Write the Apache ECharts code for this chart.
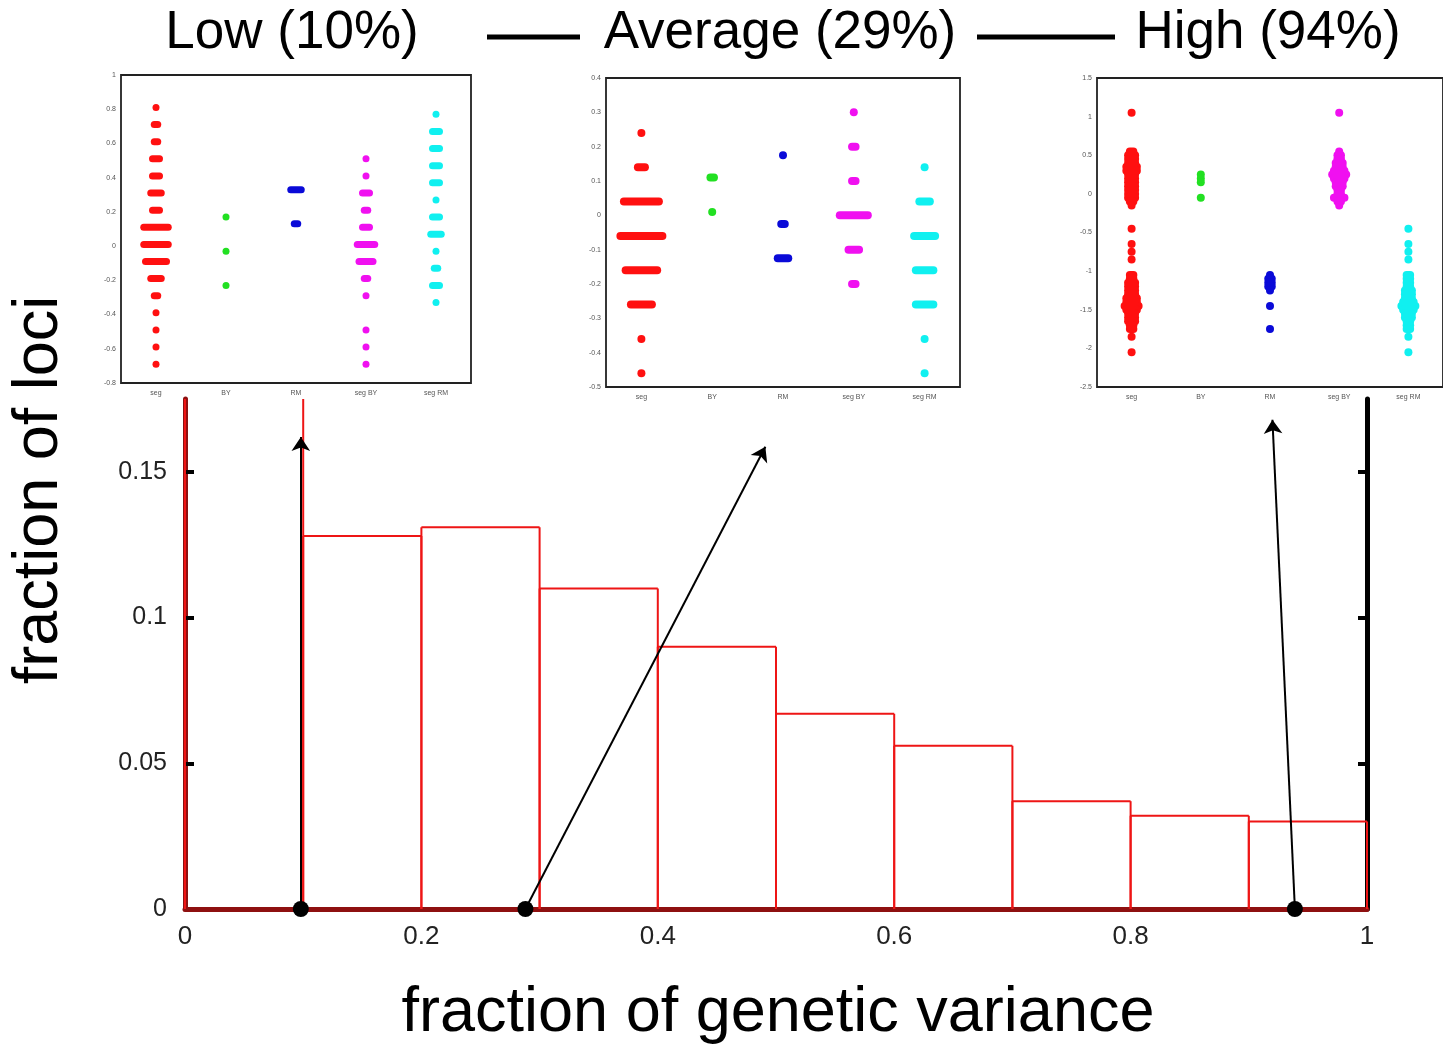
<!DOCTYPE html>
<html>
<head>
<meta charset="utf-8">
<script src="https://cdn.jsdelivr.net/npm/echarts@6/dist/echarts.min.js"></script>
<style>
  html, body { margin: 0; padding: 0; background: #fff; }
  #chart { width: 1443px; height: 1044px; }
</style>
</head>
<body>
<div id="chart"></div>
<script>
// histogram: bin start, bin end, fraction of loci
const binStart = [0, 0.1, 0.2, 0.3, 0.4, 0.5, 0.6, 0.7, 0.8, 0.9];
const binEnd = [0.1, 0.2, 0.3, 0.4, 0.5, 0.6, 0.7, 0.8, 0.9, 1.0];
const binValue = [0.30, 0.128, 0.131, 0.110, 0.090, 0.067, 0.056, 0.037, 0.032, 0.030];

// examples marked on the histogram (fraction of genetic variance)
const exampleNames = ['Low (10%)', 'Average (29%)', 'High (94%)'];
const exampleX = [0.098, 0.288, 0.939];
const arrowTargets = [[0.098, 0.162], [0.491, 0.1586], [0.920, 0.1679]];

// inset categories
const insetCats = ['seg', 'BY', 'RM', 'seg BY', 'seg RM'];

// inset rows: [value, number of dots in the row]
const lowSeg = [[0.81,1],[0.71,2],[0.61,2],[0.51,3],[0.41,3],[0.31,4],[0.21,3],[0.11,8],[0.01,8],[-0.09,7],[-0.19,4],[-0.29,2],[-0.39,1],[-0.49,1],[-0.59,1],[-0.69,1]];
const lowBY = [[0.17,1],[-0.03,1],[-0.23,1]];
const lowRM = [[0.33,4],[0.13,2]];
const lowSegBY = [[0.51,1],[0.41,1],[0.31,3],[0.21,2],[0.11,3],[0.01,6],[-0.09,5],[-0.19,2],[-0.29,1],[-0.49,1],[-0.59,1],[-0.69,1]];
const lowSegRM = [[0.77,1],[0.67,3],[0.57,3],[0.47,3],[0.37,3],[0.27,1],[0.17,3],[0.07,4],[-0.03,1],[-0.13,2],[-0.23,3],[-0.33,1]];

const avgSeg = [[0.24,1],[0.14,3],[0.04,11],[-0.06,13],[-0.16,10],[-0.26,7],[-0.36,1],[-0.46,1]];
const avgBY = [[0.11,2],[0.01,1]];
const avgRM = [[0.175,1],[-0.025,2],[-0.125,4]];
const avgSegBY = [[0.30,1],[0.20,2],[0.10,2],[0.00,9],[-0.10,4],[-0.20,2]];
const avgSegRM = [[0.14,1],[0.04,4],[-0.06,7],[-0.16,6],[-0.26,6],[-0.36,1],[-0.46,1]];

const highSeg = [[1.05,1],[0.55,2],[0.5,3],[0.45,3],[0.4,3],[0.35,4],[0.3,4],[0.25,3],[0.2,3],[0.15,3],[0.1,3],[0.05,3],[0,3],[-0.05,3],[-0.1,2],[-0.15,1],[-0.45,1],[-0.65,1],[-0.75,1],[-0.85,1],[-1.05,2],[-1.1,2],[-1.15,3],[-1.2,3],[-1.25,3],[-1.3,3],[-1.35,4],[-1.4,4],[-1.45,5],[-1.5,4],[-1.55,3],[-1.6,3],[-1.65,3],[-1.7,2],[-1.75,2],[-1.85,1],[-2.05,1]];
const highBY = [[0.25,1],[0.2,1],[0.15,1],[-0.05,1]];
const highRM = [[-1.05,1],[-1.1,2],[-1.15,2],[-1.2,2],[-1.25,1],[-1.45,1],[-1.75,1]];
const highSegBY = [[1.05,1],[0.55,1],[0.5,2],[0.45,2],[0.4,3],[0.35,3],[0.3,4],[0.25,5],[0.2,4],[0.15,3],[0.1,3],[0.05,2],[0,2],[-0.05,4],[-0.1,2],[-0.15,1]];
const highSegRM = [[-0.45,1],[-0.65,1],[-0.75,1],[-0.85,1],[-1.05,2],[-1.1,2],[-1.15,2],[-1.2,2],[-1.25,3],[-1.3,3],[-1.35,3],[-1.4,4],[-1.45,5],[-1.5,4],[-1.55,3],[-1.6,3],[-1.65,2],[-1.7,2],[-1.75,2],[-1.85,1],[-2.05,1]];

const catColors = ['#ff1010', '#22e022', '#0a0ad8', '#f010f0', '#10f0f0'];

const FONT = "'Liberation Sans', Arial, sans-serif";
const Y_MAX = 0.175;

const chart = echarts.init(document.getElementById('chart'));

// inset layout
const insets = [
  { rows: [lowSeg, lowBY, lowRM, lowSegBY, lowSegRM], min: -0.8, max: 1, interval: 0.2, dot: 7,
    grid: { left: 121, top: 75, width: 350, height: 308 } },
  { rows: [avgSeg, avgBY, avgRM, avgSegBY, avgSegRM], min: -0.5, max: 0.4, interval: 0.1, dot: 8,
    grid: { left: 606, top: 78, width: 354, height: 309 } },
  { rows: [highSeg, highBY, highRM, highSegBY, highSegRM], min: -2.5, max: 1.5, interval: 0.5, dot: 8,
    grid: { left: 1097, top: 78, width: 352, height: 309 } }
];

const grids = [{ left: 185, top: 399, width: 1182, height: 510 }];
const xAxes = [{
  type: 'value', gridIndex: 0, min: 0, max: 1, interval: 0.2,
  axisLine: { lineStyle: { color: '#8e1010', width: 5 } },
  axisTick: { show: false },
  splitLine: { show: false },
  axisLabel: { fontFamily: FONT, fontSize: 26, color: '#222', margin: 15 }
}];
const yAxes = [{
  type: 'value', gridIndex: 0, min: 0, max: Y_MAX, interval: 0.05,
  axisLine: { show: true, lineStyle: { color: '#8e1010', width: 5 } },
  axisTick: { show: true, inside: true, length: 9, lineStyle: { color: '#000', width: 4 }, customValues: [0.05, 0.1, 0.15] },
  splitLine: { show: false },
  axisLabel: { fontFamily: FONT, fontSize: 25, color: '#222', margin: 18, customValues: [0, 0.05, 0.1, 0.15] }
}, {
  type: 'value', gridIndex: 0, min: 0, max: Y_MAX, interval: 0.05, position: 'right',
  axisLine: { show: true, lineStyle: { color: '#000', width: 5 } },
  axisTick: { show: true, inside: true, length: 9, lineStyle: { color: '#000', width: 4 }, customValues: [0.05, 0.1, 0.15] },
  splitLine: { show: false },
  axisLabel: { show: false }
}];

const series = [];

// histogram outline
series.push({
  type: 'custom',
  xAxisIndex: 0, yAxisIndex: 0,
  z: 5,
  data: binStart.map((s, i) => [s, binEnd[i], binValue[i]]),
  encode: { x: [0, 1], y: 2 },
  renderItem: function (params, api) {
    const x0 = api.value(0), x1 = api.value(1), v = api.value(2);
    const top = Math.min(v, Y_MAX);
    const bl = api.coord([x0, 0]), tl = api.coord([x0, top]);
    const tr = api.coord([x1, top]), br = api.coord([x1, 0]);
    const style = { stroke: '#ee1515', lineWidth: 2, fill: null };
    const children = [
      { type: 'line', shape: { x1: bl[0], y1: bl[1], x2: tl[0], y2: tl[1] }, style: style },
      { type: 'line', shape: { x1: br[0], y1: br[1], x2: tr[0], y2: tr[1] }, style: style }
    ];
    if (v <= Y_MAX) {
      children.push({ type: 'line', shape: { x1: tl[0], y1: tl[1], x2: tr[0], y2: tr[1] }, style: style });
    }
    return { type: 'group', children: children };
  }
});

// arrows from the marked examples up to their insets
series.push({
  type: 'lines',
  coordinateSystem: 'cartesian2d',
  xAxisIndex: 0, yAxisIndex: 0,
  z: 8,
  symbol: ['none', 'arrow'],
  symbolSize: 14,
  lineStyle: { color: '#000', width: 2, opacity: 1 },
  data: exampleX.map((x, i) => ({ coords: [[x, 0], arrowTargets[i]] }))
});
series.push({
  type: 'scatter',
  xAxisIndex: 0, yAxisIndex: 0,
  z: 9,
  clip: false,
  symbolSize: 16,
  itemStyle: { color: '#000', opacity: 1 },
  data: exampleX.map(x => [x, 0])
});

// insets
insets.forEach((ins, k) => {
  const gi = k + 1;
  grids.push(Object.assign({ show: true, borderColor: '#222', borderWidth: 1.8, backgroundColor: '#fff', z: 1 }, ins.grid));
  xAxes.push({
    type: 'category', gridIndex: gi, data: insetCats,
    axisLine: { show: false }, axisTick: { show: false },
    axisLabel: { fontFamily: FONT, fontSize: 7, color: '#555', margin: 7 }
  });
  yAxes.push({
    type: 'value', gridIndex: gi, min: ins.min, max: ins.max, interval: ins.interval,
    axisLine: { show: false },
    axisTick: { show: true, inside: true, length: 3, lineStyle: { color: '#222' } },
    splitLine: { show: false },
    axisLabel: { fontFamily: FONT, fontSize: 7, color: '#555', margin: 5 }
  });
  yAxes.push({
    type: 'value', gridIndex: gi, min: ins.min, max: ins.max, interval: ins.interval, position: 'right',
    axisLine: { show: false },
    axisTick: { show: true, inside: true, length: 3, lineStyle: { color: '#222' } },
    splitLine: { show: false },
    axisLabel: { show: false }
  });
  const yIdx = yAxes.length - 2;
  ins.rows.forEach((rows, c) => {
    series.push({
      type: 'custom',
      xAxisIndex: gi, yAxisIndex: yIdx,
      z: 3,
      data: rows.map(r => [c, r[0], r[1]]),
      encode: { x: 0, y: 1 },
      renderItem: function (params, api) {
        const p = api.coord([api.value(0), api.value(1)]);
        const n = api.value(2);
        const d = ins.dot;
        const w = d + (n - 1) * 3.5;
        return {
          type: 'rect',
          shape: { x: p[0] - w / 2, y: p[1] - d / 2, width: w, height: d, r: d / 2 },
          style: { fill: catColors[c] }
        };
      }
    });
  });
});

const titleX = [292, 780, 1268];
const graphic = exampleNames.map((t, i) => ({
  type: 'text', x: titleX[i], y: 33,
  style: { text: t, font: '53px ' + FONT, fill: '#000', align: 'center', verticalAlign: 'middle' }
}));
graphic.push(
  { type: 'line', shape: { x1: 487, y1: 37, x2: 580, y2: 37 }, style: { stroke: '#000', lineWidth: 5 } },
  { type: 'line', shape: { x1: 977, y1: 37, x2: 1115, y2: 37 }, style: { stroke: '#000', lineWidth: 5 } },
  { type: 'text', x: 40, y: 490, rotation: Math.PI / 2,
    style: { text: 'fraction of loci', font: '63px ' + FONT, fill: '#000', align: 'center', verticalAlign: 'middle' } },
  { type: 'text', x: 778, y: 1014,
    style: { text: 'fraction of genetic variance', font: '63px ' + FONT, fill: '#000', align: 'center', verticalAlign: 'middle' } }
);

chart.setOption({
  animation: false,
  backgroundColor: '#fff',
  grid: grids,
  xAxis: xAxes,
  yAxis: yAxes,
  series: series,
  graphic: graphic
});
</script>
</body>
</html>
